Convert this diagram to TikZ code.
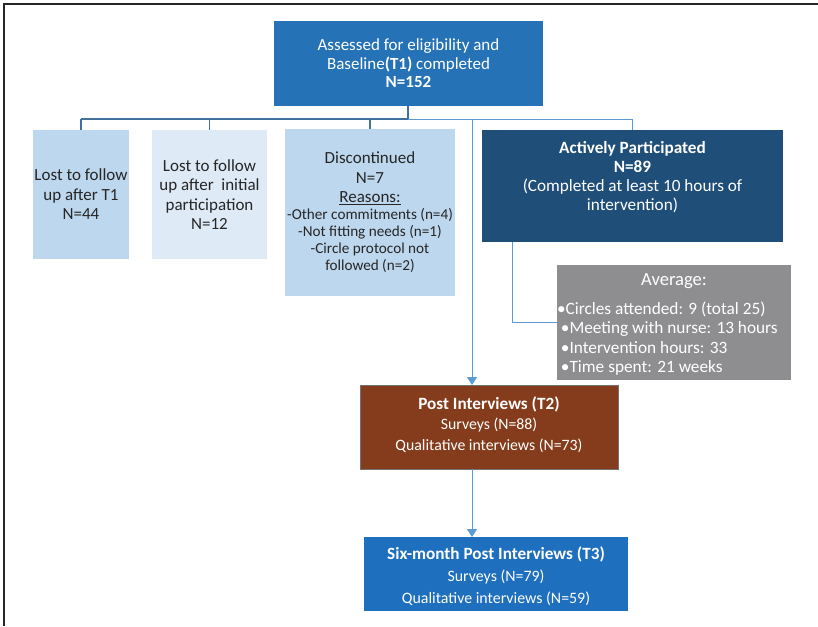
\documentclass[tikz,border=0pt]{standalone}
\usepackage{fontspec}
\setmainfont{Carlito}
\usetikzlibrary{arrows.meta}
\definecolor{topblue}{HTML}{2672B6}
\definecolor{lightA}{HTML}{BDD7EE}
\definecolor{lightB}{HTML}{DEEBF7}
\definecolor{navy}{HTML}{1F4E79}
\definecolor{avggray}{HTML}{8E8E91}
\definecolor{brown}{HTML}{843C1C}
\definecolor{sixblue}{HTML}{1E6FBE}
\definecolor{darkline}{HTML}{41719C}
\definecolor{lightline}{HTML}{5B9BD5}
\definecolor{txtdark}{HTML}{262626}
\newcommand\smline{\fontsize{15.2}{17}\selectfont}
\newcommand\bigbold[1]{{\fontsize{17.2}{20}\selectfont\textbf{#1}}}
\tikzset{
  boxbase/.style={inner sep=0pt, outer sep=0pt, align=center},
  lightbox/.style={boxbase, text=txtdark},
  darkbox/.style={boxbase, text=white},
  conn/.style={line width=1.3pt, draw=darkline},
  connlight/.style={line width=1pt, draw=lightline},
  arrowconn/.style={connlight, -{Triangle[width=10pt,length=8pt]}},
}
\begin{document}
\begin{tikzpicture}[x=1pt,y=-1pt]
\useasboundingbox (0,0) rectangle (818,626);
% frame
\draw[line width=1.6pt, draw=black!85] (4,626) -- (4,4) -- (818,4);

% boxes
\node[darkbox, fill=topblue, minimum width=269pt, minimum height=85pt, font=\fontsize{17}{18.5}\selectfont] (top) at (408.5,63.5)
 {Assessed for eligibility and\\Baseline\textbf{(T1)} completed\\\textbf{N=152}};

\node[lightbox, fill=lightA, minimum width=96pt, minimum height=129pt, font=\fontsize{17}{19.5}\selectfont] (lost1) at (81,194.5)
 {Lost to follow\\up after T1\\N=44};

\node[lightbox, fill=lightB, minimum width=115pt, minimum height=129pt, font=\fontsize{17}{19.3}\selectfont] (lost2) at (209.5,194.5)
 {Lost to follow\\up after\ \ initial\\participation\\N=12};

\node[lightbox, fill=lightA, minimum width=170pt, minimum height=167pt, font=\fontsize{17}{19.5}\selectfont] (disc) at (370,212.5)
 {Discontinued\\N=7\\\underline{Reasons:}\\[-2.5pt]\smline -Other commitments (n=4)\\[-2.5pt]\smline -Not fitting needs (n=1)\\[-2.5pt]\smline -Circle protocol not\\[-2.5pt]\smline followed (n=2)};

\node[darkbox, fill=navy, minimum width=301pt, minimum height=112pt] (act) at (632.5,186) {};
\node[darkbox, font=\fontsize{17.2}{19}\selectfont] (acttext) at (632.5,177.5)
 {\textbf{Actively Participated}\\\textbf{N=89}\\(Completed at least 10 hours of\\intervention)};

\node[darkbox, fill=avggray, minimum width=234pt, minimum height=115pt] (avg) at (674,322.5) {};
\node[darkbox, font=\fontsize{18.6}{20}\selectfont] (avgtitle) at (674,281) {Average:};
\node[darkbox, font=\fontsize{17.3}{19.3}\selectfont, align=left, anchor=north west] (avglist) at (557,302)
 {\textbullet Circles attended: 9 (total 25)\\
  \ \textbullet Meeting with nurse: 13 hours\\
  \ \textbullet Intervention hours: 33\\
  \ \textbullet Time spent: 21 weeks};

\node[darkbox, fill=brown, draw=black!55, line width=0.6pt, minimum width=258pt, minimum height=84pt] (post) at (489,427) {};
\node[darkbox, font=\fontsize{15.8}{20.5}\selectfont] (posttext) at (489,424.5)
 {\bigbold{Post Interviews (T2)}\\Surveys (N=88)\\Qualitative interviews (N=73)};

\node[darkbox, fill=sixblue, minimum width=264pt, minimum height=74pt] (six) at (496,574) {};
\node[darkbox, font=\fontsize{15.9}{22}\selectfont] (sixtext) at (496,576)
 {\bigbold{Six-month Post Interviews (T3)}\\Surveys (N=79)\\Qualitative interviews (N=59)};

% connectors
\coordinate (jtop) at (408,119);
\coordinate (jl1) at (81,119);
\coordinate (jl2) at (209.5,119);
\coordinate (jd) at (370,119);
\coordinate (jpost) at (472,119);
\coordinate (jact) at (632.5,119);
\coordinate (jbend) at (512,322.5);

\draw[conn] (top.south -| jtop) -- (jtop);
\draw[conn] (jl1) -- (jtop);
\draw[connlight] (jtop) -- (jact);
\draw[conn] (jl1) -- (lost1.north);
\draw[conn] (jl2) -- (lost2.north);
\draw[conn] (jd) -- (disc.north);
\draw[connlight] (jact) -- (act.north);
\draw[arrowconn] (jpost) -- (post.north -| jpost);
\draw[arrowconn] (post.south -| jpost) -- (six.north -| jpost);
\draw[connlight] (act.south -| jbend) -- (jbend) -- (avg.west);
\end{tikzpicture}
\end{document}
